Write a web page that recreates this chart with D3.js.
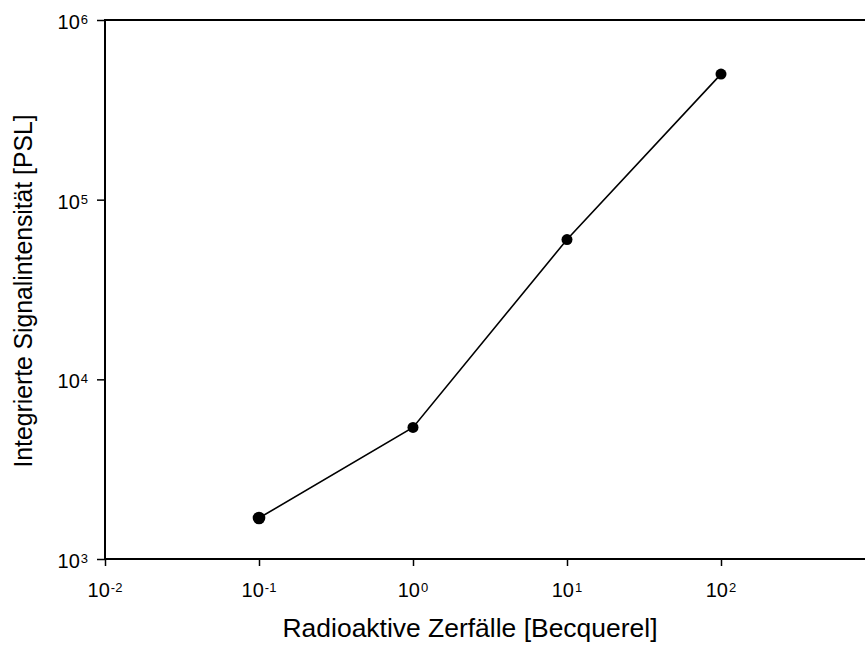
<!DOCTYPE html>
<html><head><meta charset="utf-8">
<script src="https://cdn.jsdelivr.net/npm/d3@7"></script>
<style>body{margin:0;background:#fff}svg{display:block}text{font-family:"Liberation Sans",Arial,sans-serif;fill:#000}</style>
</head><body>
<svg id="c" width="865" height="647"></svg>
<script>
const xValues = [0.1, 1, 10, 100];
const yValues = [1690, 5400, 60000, 500000];
const xTickExps = [-2, -1, 0, 1, 2];
const yTickExps = [3, 4, 5, 6];
const xTitle = "Radioaktive Zerfälle [Becquerel]";
const yTitle = "Integrierte Signalintensität [PSL]";

const svg = d3.select("#c");
const L = 105, T = 20, B = 559, decade = 154;
const x = d3.scaleLog().domain([1e-2, 1e3]).range([L, L + 5 * decade]);
const y = d3.scaleLog().domain([1e3, 1e6]).range([B, T]);

svg.append("line").attr("x1", L).attr("x2", 865).attr("y1", T).attr("y2", T).attr("stroke", "#000").attr("stroke-width", 2);
const xAxis = d3.axisBottom(x).tickValues(xTickExps.map(e => Math.pow(10, e))).tickSize(7).tickFormat("");
const gx = svg.append("g").attr("transform", `translate(0,${B})`).call(xAxis);
gx.select(".domain").remove();
gx.selectAll(".tick line").attr("stroke-width", 1.5);
svg.append("line").attr("x1", L).attr("x2", 865).attr("y1", B).attr("y2", B).attr("stroke", "#000").attr("stroke-width", 2);

const yAxis = d3.axisLeft(y).tickValues(yTickExps.map(e => Math.pow(10, e))).tickSize(8).tickFormat("");
const gy = svg.append("g").attr("transform", `translate(${L},0)`).call(yAxis);
gy.select(".domain").remove();
gy.selectAll(".tick line").attr("stroke-width", 1.5);
svg.append("line").attr("x1", L).attr("x2", L).attr("y1", T - 1).attr("y2", B + 1).attr("stroke", "#000").attr("stroke-width", 2);

function label(t, e) {
  t.append("tspan").text("10");
  t.append("tspan").attr("dx", 1).attr("dy", -5).attr("font-size", 13).text(e < 0 ? "-" + (-e) : e);
}
xTickExps.forEach(e => {
  const t = svg.append("text").attr("x", x(Math.pow(10, e))).attr("y", 597).attr("text-anchor", "middle").attr("font-size", 20);
  label(t, e);
});
yTickExps.forEach(e => {
  const t = svg.append("text").attr("x", 88).attr("y", y(Math.pow(10, e)) + 9).attr("text-anchor", "end").attr("font-size", 20);
  label(t, e);
});

svg.append("text").attr("x", 470).attr("y", 637).attr("text-anchor", "middle").attr("font-size", 26)
  .attr("textLength", 375).attr("lengthAdjust", "spacingAndGlyphs").text(xTitle);
svg.append("text").attr("transform", "translate(32,291) rotate(-90)").attr("text-anchor", "middle").attr("font-size", 25)
  .attr("textLength", 353).attr("lengthAdjust", "spacingAndGlyphs").text(yTitle);

const pts = xValues.map((v, i) => [v, yValues[i]]);
svg.append("path").datum(pts)
  .attr("d", d3.line().x(d => x(d[0])).y(d => y(d[1])))
  .attr("fill", "none").attr("stroke", "#000").attr("stroke-width", 1.6);
svg.selectAll("circle.pt").data(pts).join("circle")
  .attr("cx", d => x(d[0])).attr("cy", d => y(d[1]))
  .attr("r", (d, i) => i === 0 ? 6.3 : 5.5).attr("fill", "#000");
</script>
</body></html>
